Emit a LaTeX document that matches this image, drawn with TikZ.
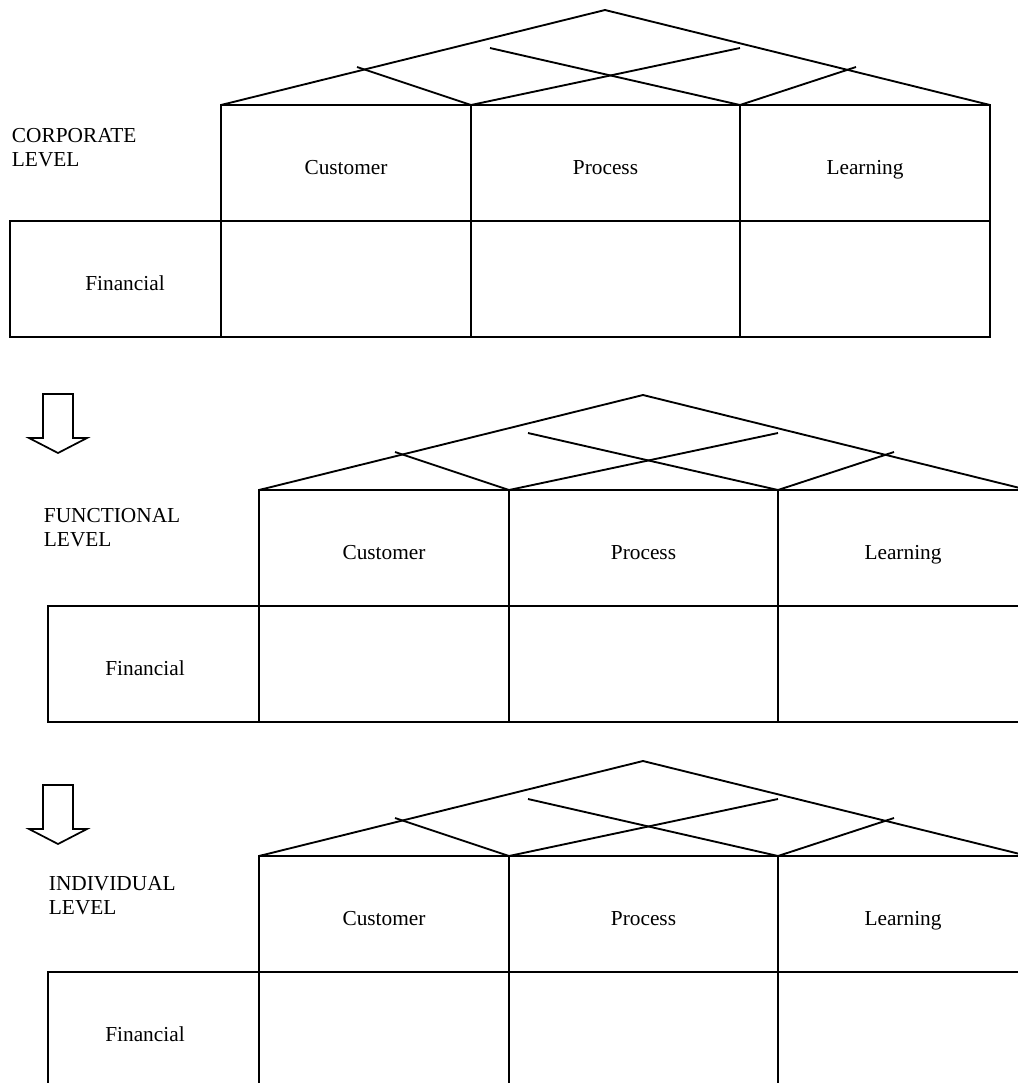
\documentclass[tikz,border=0pt]{standalone}
\usepackage{fontspec}
\setmainfont{Liberation Serif}
\newcommand\myhouse[8]{%
  % #1 upper-left x, #2 roof base y, #3 lower-left x, #4 Financial centre x,
  % #5 level label x, #6 level label baseline offset, #7 level word, #8 name prefix
  \begin{scope}[shift={(#1,#2)}]
    \draw (0,0) -- (384,-95) -- (769,0);
    \draw (269,-57) -- (519,0);
    \draw (519,-57) -- (250,0);
    \draw (250,0) -- (136,-38);
    \draw (519,0) -- (635,-38);
    \draw (0,0) rectangle (769,116);
    \draw (0,116) -- (0,232);
    \draw (250,0) -- (250,232);
    \draw (519,0) -- (519,232);
    \draw ({#3-#1},116) rectangle (769,232);
    \node[lbl] (#8cust) at (125,69) {Customer};
    \node[lbl] (#8proc) at (384.5,69) {Process};
    \node[lbl] (#8learn) at (644,69) {Learning};
    \node[lbl] (#8fin) at ({#4-#1},185) {Financial};
    \node[lvl] (#8lvla) at ({#5-#1},#6) {#7};
    \node[lvl] (#8lvlb) at ({#5-#1},{#6+24.5}) {LEVEL};
  \end{scope}}
\begin{document}
\begin{tikzpicture}[x=0.75pt,y=-0.75pt,line width=1.4pt,line join=miter,
  lbl/.style={inner sep=0pt,anchor=base,font=\fontsize{16}{18}\selectfont},
  lvl/.style={inner sep=0pt,anchor=base west,font=\fontsize{16}{18}\selectfont},
  downarrow/.style={line width=1.3pt}]
  \useasboundingbox (0,0) rectangle (1018,1083);
  \clip (0,0) rectangle (1018,1083);
  \myhouse{221}{105}{10}{125}{11}{37}{CORPORATE}{a}
  \myhouse{259}{490}{48}{145}{43}{32}{FUNCTIONAL}{b}
  \myhouse{259}{856}{48}{145}{48}{34}{INDIVIDUAL}{c}
  \draw[downarrow] (43,394) -- (73,394) -- (73,438) -- (87,438) -- (58,453)
     -- (29,438) -- (43,438) -- cycle;
  \draw[downarrow] (43,785) -- (73,785) -- (73,829) -- (87,829) -- (58,844)
     -- (29,829) -- (43,829) -- cycle;
\end{tikzpicture}
\end{document}
